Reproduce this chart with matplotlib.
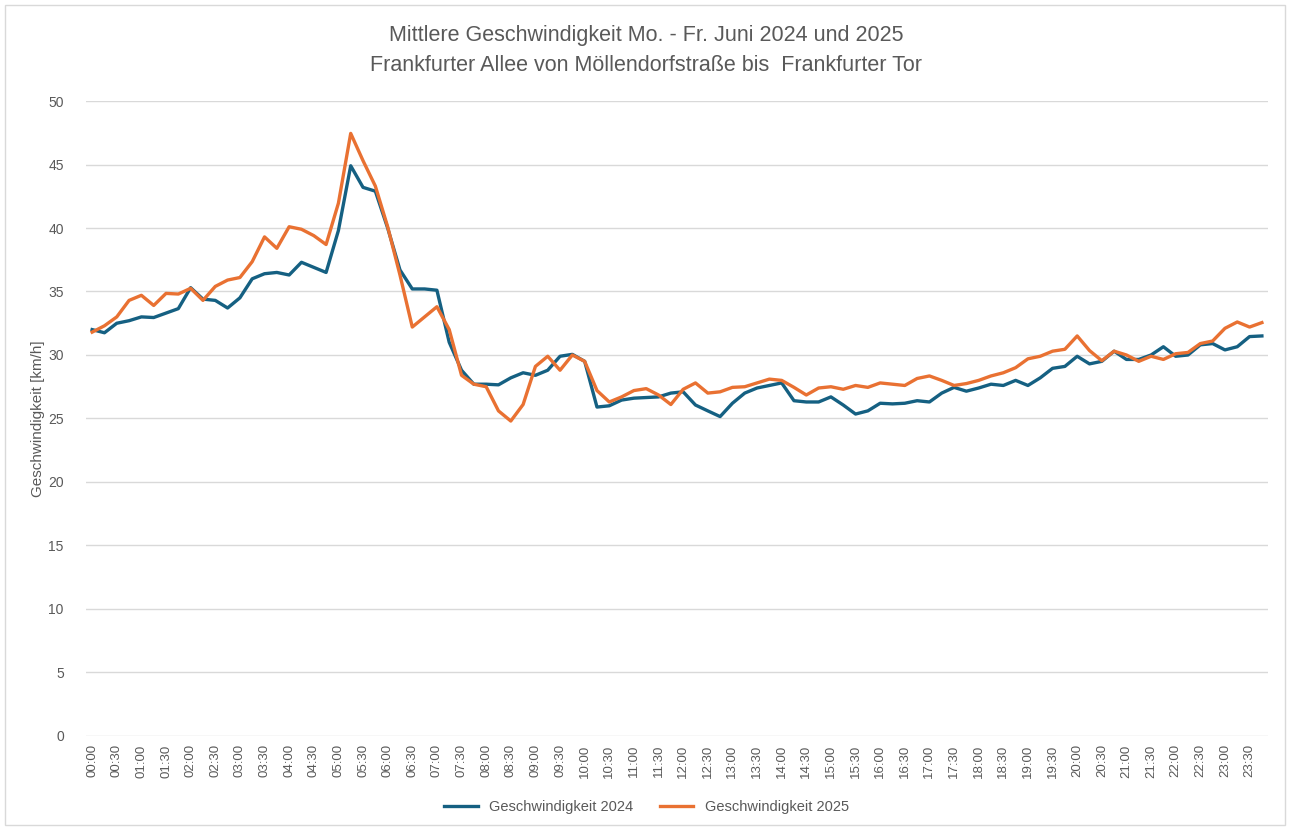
import matplotlib.pyplot as plt
from matplotlib.patches import Rectangle

# 15-minute slots, labelled every 30 min
zeiten = [f"{h:02d}:{m:02d}" for h in range(24) for m in (0, 15, 30, 45)]

speed_2024 = [
    32.0, 31.75, 32.5, 32.7, 33.0, 32.95, 33.3, 33.65, 35.3, 34.4, 34.3, 33.7,
    34.5, 36.0, 36.4, 36.5, 36.3, 37.3, 36.9, 36.5, 39.8, 44.9, 43.2, 42.9,
    40.0, 36.7, 35.2, 35.2, 35.1, 31.0, 28.8, 27.7, 27.7, 27.65, 28.2, 28.6,
    28.4, 28.8, 29.9, 30.05, 29.5, 25.9, 26.0, 26.45, 26.6, 26.65, 26.7, 27.0,
    27.1, 26.06, 25.6, 25.15, 26.2, 27.0, 27.4, 27.6, 27.8, 26.4, 26.3, 26.3,
    26.7, 26.06, 25.35, 25.6, 26.2, 26.15, 26.2, 26.4, 26.3, 27.0, 27.45, 27.15,
    27.4, 27.7, 27.6, 28.0, 27.6, 28.2, 28.95, 29.1, 29.9, 29.3, 29.5, 30.3,
    29.65, 29.65, 30.0, 30.65, 29.9, 30.0, 30.8, 30.9, 30.4, 30.65, 31.45, 31.5,
]

speed_2025 = [
    31.8, 32.3, 33.0, 34.3, 34.7, 33.9, 34.85, 34.8, 35.25, 34.3, 35.4, 35.9,
    36.1, 37.35, 39.3, 38.4, 40.1, 39.9, 39.4, 38.7, 41.95, 47.45, 45.3, 43.3,
    40.1, 36.3, 32.2, 33.0, 33.8, 32.0, 28.4, 27.7, 27.5, 25.6, 24.8, 26.1,
    29.1, 29.9, 28.8, 30.0, 29.5, 27.2, 26.3, 26.7, 27.2, 27.35, 26.85, 26.1,
    27.3, 27.8, 27.0, 27.1, 27.45, 27.5, 27.8, 28.1, 28.0, 27.45, 26.85, 27.4,
    27.5, 27.3, 27.6, 27.45, 27.8, 27.7, 27.6, 28.15, 28.35, 28.0, 27.6, 27.75,
    28.0, 28.35, 28.6, 29.0, 29.7, 29.9, 30.3, 30.45, 31.5, 30.35, 29.55, 30.3,
    30.0, 29.5, 29.9, 29.65, 30.1, 30.2, 30.9, 31.1, 32.1, 32.6, 32.2, 32.55,
]

title = "Mittlere Geschwindigkeit Mo. - Fr. Juni 2024 und 2025\nFrankfurter Allee von Möllendorfstraße bis  Frankfurter Tor"

plt.rcParams['font.family'] = ['Liberation Sans', 'DejaVu Sans']
grey = '#595959'

fig = plt.figure(figsize=(12.93, 8.3), dpi=100)
ax = fig.add_axes([0.0665, 0.1133, 0.9142, 0.765])

x = range(len(zeiten))
ax.plot(x, speed_2024, color='#156082', lw=2.4, label='Geschwindigkeit 2024', solid_joinstyle='round')
ax.plot(x, speed_2025, color='#E97132', lw=2.4, label='Geschwindigkeit 2025', solid_joinstyle='round')

ax.set_xlim(-0.5, len(zeiten) - 0.5)
ax.set_ylim(0, 50)
ax.set_yticks(range(0, 51, 5))
ax.set_xticks(list(x)[::2])
ax.set_xticklabels(zeiten[::2], rotation=90, fontsize=9.5, color=grey)
ax.tick_params(axis='y', labelsize=10, colors=grey, length=0, pad=16)
ax.tick_params(axis='x', length=0, pad=6)
ax.grid(axis='y', color='#D9D9D9', lw=1)
ax.set_axisbelow(True)
for s in ax.spines.values():
    s.set_visible(False)

ax.set_ylabel('Geschwindigkeit [km/h]', fontsize=11, color=grey, labelpad=2)
fig.text(0.5, 0.939, title, ha='center', va='center', fontsize=15.5, color=grey, linespacing=1.6)

fig.legend(loc='lower center', bbox_to_anchor=(0.5, 0.003), ncol=2, frameon=False,
           fontsize=10.5, handlelength=2.3, columnspacing=1.8, labelcolor=grey)

# chart area border
fig.patches.append(Rectangle((0.004, 0.006), 0.99, 0.988, transform=fig.transFigure,
                             fill=False, edgecolor='#D9D9D9', lw=1))

fig.savefig('out.png', dpi=100)
